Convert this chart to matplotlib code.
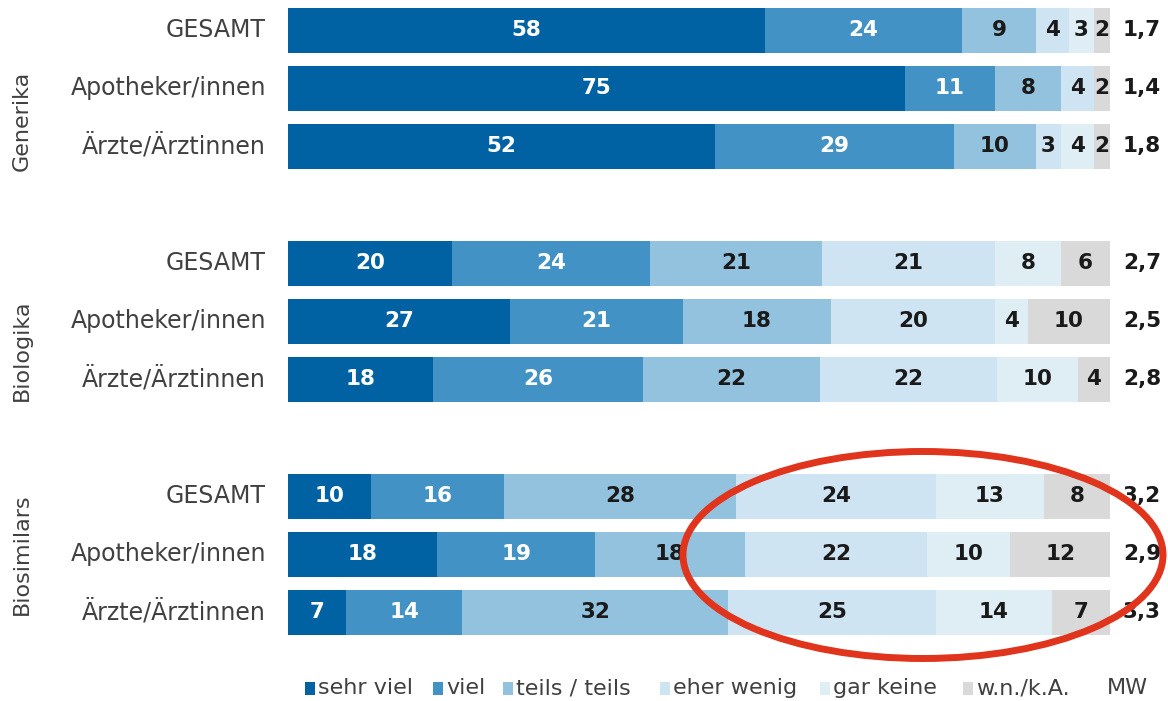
import numpy as np
import matplotlib.pyplot as plt
from matplotlib.patches import Ellipse, Rectangle

groups = ['Generika', 'Biologika', 'Biosimilars']
rows = ['GESAMT', 'Apotheker/innen', 'Ärzte/Ärztinnen']
categories = ['sehr viel', 'viel', 'teils / teils', 'eher wenig', 'gar keine', 'w.n./k.A.']

sehr_viel = [58, 75, 52, 20, 27, 18, 10, 18, 7]
viel = [24, 11, 29, 24, 21, 26, 16, 19, 14]
teils = [9, 8, 10, 21, 18, 22, 28, 18, 32]
eher_wenig = [4, 4, 3, 21, 20, 22, 24, 22, 25]
gar_keine = [3, 0, 4, 8, 4, 10, 13, 10, 14]
wn_ka = [2, 2, 2, 6, 10, 4, 8, 12, 7]
mw = ['1,7', '1,4', '1,8', '2,7', '2,5', '2,8', '3,2', '2,9', '3,3']

colors = ['#0061a3', '#4392c5', '#93c2df', '#cfe4f3', '#dfeef5', '#d9d9d9']
txt_colors = ['white', 'white', '#1a1a1a', '#1a1a1a', '#1a1a1a', '#1a1a1a']
label_col = '#404040'

plt.rcParams['font.family'] = ['DejaVu Sans']

W, H = 1168, 701
fig = plt.figure(figsize=(W / 100, H / 100), dpi=100)
x0, x1 = 288, 1110
ax = fig.add_axes([x0 / W, 0, (x1 - x0) / W, 1])
ax.set_xlim(0, 100)
ax.set_ylim(H, 0)
ax.axis('off')

vals = np.array([sehr_viel, viel, teils, eher_wenig, gar_keine, wn_ka], dtype=float)
shares = vals / vals.sum(axis=0) * 100
ypos = np.array([30 + i * 58 + (i // 3) * 59 for i in range(9)])
bar_h = 45

left = np.zeros(9)
for k in range(len(categories)):
    ax.barh(ypos, shares[k], left=left, height=bar_h, color=colors[k], linewidth=0)
    for i in range(9):
        if vals[k, i] > 0:
            ax.text(left[i] + shares[k, i] / 2, ypos[i], '%d' % vals[k, i],
                    ha='center', va='center', fontsize=15.5, fontweight='bold',
                    color=txt_colors[k])
    left += shares[k]

px = 100 / (x1 - x0)
for i in range(9):
    ax.text(-22 * px, ypos[i], rows[i % 3], ha='right', va='center',
            fontsize=17, color=label_col)
    ax.text(100 + 13 * px, ypos[i], mw[i], ha='left', va='center',
            fontsize=15.5, fontweight='bold', color='#1a1a1a')

# group labels sit a bit lower in the first two blocks
grp_shift = [33, 29, 0]
for g in range(3):
    ax.text((22 - x0) * px, ypos[g * 3 + 1] + grp_shift[g], groups[g], rotation=90,
            ha='center', va='center', fontsize=16, color=label_col)

ell = Ellipse(((923 - x0) * px, 555), 480 * px, 207, fill=False,
              edgecolor='#e0341c', linewidth=5, zorder=10, clip_on=False)
ax.add_patch(ell)

# legend, laid out by hand like the original
sq_x = [305, 433, 503, 660, 820, 963]
ly = 688
for k in range(len(categories)):
    fig.add_artist(Rectangle((sq_x[k] / W, 1 - (ly + 7) / H), 10 / W, 13 / H,
                             transform=fig.transFigure, facecolor=colors[k],
                             edgecolor='none'))
    fig.text((sq_x[k] + 13) / W, 1 - ly / H, categories[k], ha='left',
             va='center', fontsize=16, color=label_col)
fig.text(1107 / W, 1 - ly / H, 'MW', ha='left', va='center', fontsize=16, color=label_col)

fig.savefig('out.png', dpi=100)
